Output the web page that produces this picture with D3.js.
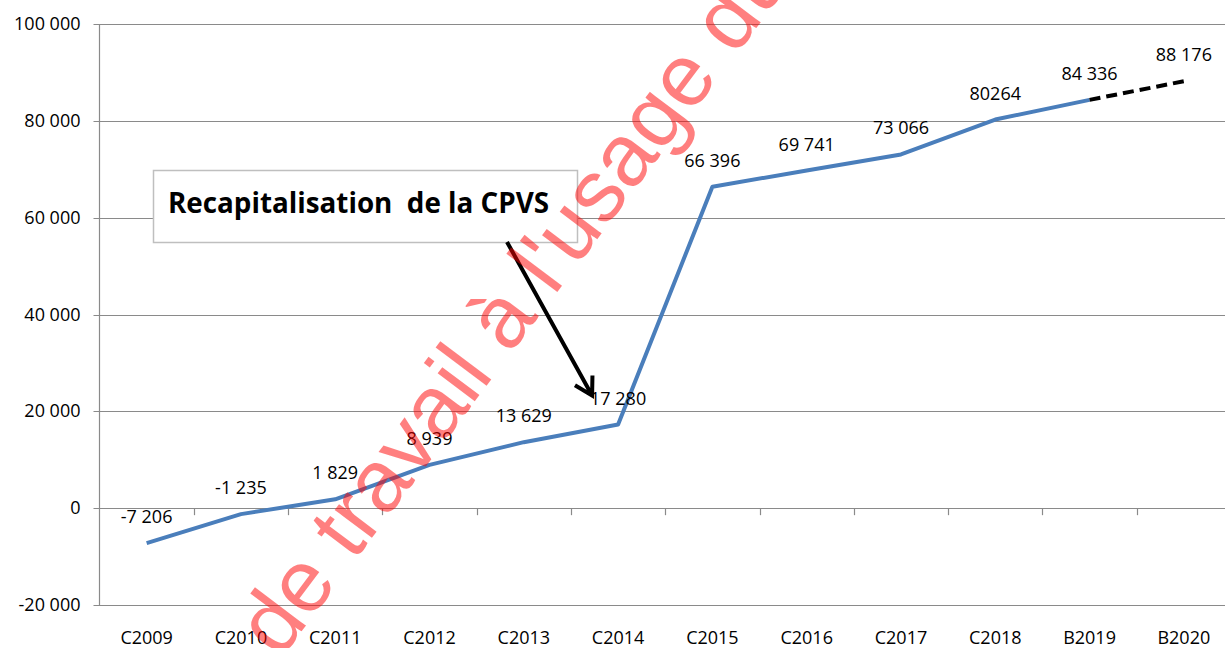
<!DOCTYPE html>
<html>
<head>
<meta charset="utf-8">
<script src="https://cdn.jsdelivr.net/npm/d3@7"></script>
<style>
  html, body { margin: 0; padding: 0; background: #ffffff; }
  svg { display: block; }
</style>
</head>
<body>
<svg id="chart" width="1225" height="648"></svg>
<script>
// ---- Data ----
const categories = ["C2009","C2010","C2011","C2012","C2013","C2014","C2015","C2016","C2017","C2018","B2019","B2020"];
const values = [-7206, -1235, 1829, 8939, 13629, 17280, 66396, 69741, 73066, 80264, 84336, 88176];
const valueLabels = ["-7 206","-1 235","1 829","8 939","13 629","17 280","66 396","69 741","73 066","80264","84 336","88 176"];
const yTicks = [-20000, 0, 20000, 40000, 60000, 80000, 100000];
const yTickLabels = ["-20 000","0","20 000","40 000","60 000","80 000","100 000"];
const annotationText = "Recapitalisation  de la CPVS";
const annotationTarget = "C2014";
const watermarkText = "de travail à l'usage du";

// ---- Layout ----
const W = 1225, H = 648;
const plot = { left: 99.5, right: 1231, top: 24, bottom: 605 };
const font = "'Open Sans', 'Noto Sans', sans-serif";

const svg = d3.select("#chart");

const x = d3.scaleBand().domain(categories).range([plot.left, plot.right]).padding(0);
const cx = c => x(c) + x.bandwidth() / 2;
const y = d3.scaleLinear().domain([-20000, 100000]).range([plot.bottom, plot.top]);

const gridColor = "#8a8a8a";

// gridlines
svg.append("g").selectAll("line").data(yTicks).join("line")
  .attr("x1", plot.left - 6).attr("x2", W)
  .attr("y1", d => Math.round(y(d)) + 0.5).attr("y2", d => Math.round(y(d)) + 0.5)
  .attr("stroke", gridColor).attr("stroke-width", 1.2);

// y axis line
svg.append("line")
  .attr("x1", plot.left).attr("x2", plot.left)
  .attr("y1", y(100000)).attr("y2", y(-20000))
  .attr("stroke", gridColor).attr("stroke-width", 1.2);

// y labels
svg.append("g").selectAll("text").data(yTicks).join("text")
  .attr("x", plot.left - 19).attr("y", d => y(d) + 6)
  .attr("text-anchor", "end")
  .attr("font-family", font).attr("font-size", 18)
  .attr("fill", "#000")
  .text((d, i) => yTickLabels[i]);

// x tick marks on zero line (category boundaries)
const boundaries = categories.slice(1).map(c => x(c));
svg.append("g").selectAll("line").data(boundaries).join("line")
  .attr("x1", d => Math.round(d) + 0.5).attr("x2", d => Math.round(d) + 0.5)
  .attr("y1", y(0)).attr("y2", y(0) + 7)
  .attr("stroke", gridColor).attr("stroke-width", 1.2);

// x labels
svg.append("g").selectAll("text").data(categories).join("text")
  .attr("x", d => cx(d)).attr("y", 644)
  .attr("text-anchor", "middle")
  .attr("font-family", font).attr("font-size", 18)
  .attr("fill", "#000")
  .text(d => d);

// series
const pts = categories.map((c, i) => ({ c, v: values[i], label: valueLabels[i] }));
const line = d3.line().x(d => cx(d.c)).y(d => y(d.v));

svg.append("path")
  .datum(pts.slice(0, 11))
  .attr("d", line)
  .attr("fill", "none").attr("stroke", "#4A7EBB")
  .attr("stroke-width", 4).attr("stroke-linejoin", "round");

svg.append("path")
  .datum(pts.slice(10))
  .attr("d", line)
  .attr("fill", "none").attr("stroke", "#000")
  .attr("stroke-width", 4).attr("stroke-dasharray", "11,6");

// data labels
svg.append("g").selectAll("text").data(pts).join("text")
  .attr("x", d => cx(d.c)).attr("y", d => y(d.v) - 20)
  .attr("text-anchor", "middle")
  .attr("font-family", font).attr("font-size", 18)
  .attr("fill", "#000")
  .text(d => d.label);

// annotation box
const box = { x: 153, y: 170, w: 424, h: 72 };
svg.append("rect")
  .attr("x", box.x + 0.5).attr("y", box.y + 0.5)
  .attr("width", box.w).attr("height", box.h)
  .attr("fill", "#fff").attr("stroke", "#bfbfbf").attr("stroke-width", 1.5);
svg.append("text")
  .attr("x", box.x + 15).attr("y", box.y + 43)
  .attr("font-family", font).attr("font-size", 27.8).attr("font-weight", "bold")
  .attr("fill", "#000")
  .style("white-space", "pre")
  .text(annotationText);

// arrow
const tgtIdx = categories.indexOf(annotationTarget);
const tip = [cx(annotationTarget) - 26, y(values[tgtIdx]) - 29];
const start = [507, box.y + box.h];
const ang = Math.atan2(start[1] - tip[1], start[0] - tip[0]);
const armLen = 20, spread = Math.PI / 6;
const a1 = [tip[0] + armLen * Math.cos(ang + spread), tip[1] + armLen * Math.sin(ang + spread)];
const a2 = [tip[0] + armLen * Math.cos(ang - spread), tip[1] + armLen * Math.sin(ang - spread)];
svg.append("path")
  .attr("d", `M${start[0]},${start[1]}L${tip[0]},${tip[1]}M${a1[0]},${a1[1]}L${tip[0]},${tip[1]}L${a2[0]},${a2[1]}`)
  .attr("fill", "none").attr("stroke", "#000").attr("stroke-width", 4)
  .attr("stroke-linejoin", "miter");

// watermark
svg.append("text")
  .attr("transform", "translate(280,660) rotate(-53)")
  .attr("font-family", "'Liberation Sans', Arial, sans-serif")
  .attr("font-size", 88)
  .attr("fill", "rgba(255,0,0,0.5)")
  .style("white-space", "pre")
  .text(watermarkText);
</script>
</body>
</html>
